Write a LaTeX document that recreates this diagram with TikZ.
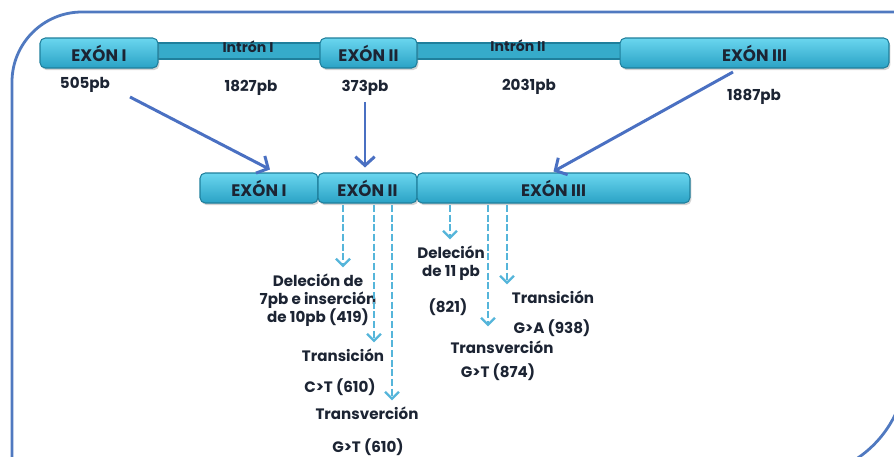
\documentclass[tikz,border=0pt]{standalone}
\usepackage{fontspec}
\setmainfont{Poppins}
\usetikzlibrary{arrows.meta}
\usetikzlibrary{positioning}
\usetikzlibrary{shadows}
\definecolor{framecol}{HTML}{5079C0}
\definecolor{exonlight}{HTML}{6AD6EF}
\definecolor{exondark}{HTML}{2AA2C5}
\definecolor{exonedge}{HTML}{1F7F9C}
\definecolor{introncol}{HTML}{36ABCA}
\definecolor{txtcol}{HTML}{1C2433}
\definecolor{arrowcol}{HTML}{4A70C2}
\definecolor{dashcol}{HTML}{55B5DA}
\tikzset{exon/.style = {draw=exonedge, line width=0.6pt, rounded corners=3pt,
                        top color=exonlight, bottom color=exondark,
                        minimum height=0.6cm, inner sep=0, text=txtcol,
                        font=\bfseries\fontsize{9.5}{11}\selectfont,
                        drop shadow={opacity=0.35, shadow xshift=0.8pt, shadow yshift=-1.2pt}}}
\tikzset{intron/.style = {draw=exonedge, line width=0.6pt, fill=introncol,
                          minimum height=0.32cm, inner sep=0}}
\tikzset{lbl/.style = {text=txtcol, font=\bfseries\fontsize{8.6}{10.3}\selectfont, align=center}}
\tikzset{smalllbl/.style = {text=txtcol, font=\bfseries\fontsize{8}{9}\selectfont}}
\tikzset{mainarrow/.style = {draw=arrowcol, line width=1.7pt,
                             -{Straight Barb[length=5pt, width=11pt]}}}
\tikzset{mutarrow/.style = {draw=dashcol, line width=1.3pt, dash pattern=on 4pt off 1.5pt,
                            -{Straight Barb[length=4pt, width=8pt]}}}

\begin{document}
\begin{tikzpicture}[x=0.02cm, y=-0.02cm]
  \useasboundingbox (0,0) rectangle (894,457);
  \begin{scope}
    \clip (0,0) rectangle (894,457);
    \draw [framecol, line width=1.6pt]
      (12,480) -- (12,82) arc[start angle=180, end angle=270, radius=70]
      -- (906,12) -- (906,367) arc[start angle=0, end angle=90, radius=110]
      -- (0,477);
  \end{scope}

  % gen completo
  \node [intron, minimum width=3.4cm] (intIa) at (239,51) {};
  \node [intron, minimum width=4.2cm] (intIIa) at (518.5,51) {};
  \node [exon, minimum width=2.36cm] (exIa) at (99,53) {EXÓN I};
  \node [exon, minimum width=1.94cm] (exIIa) at (368.5,53) {EXÓN II};
  \node [exon, minimum width=5.38cm] (exIIIa) at (754.5,53) {EXÓN III};
  \node [smalllbl] (tIa) at (248,47) {Intrón I};
  \node [smalllbl] (tIIa) at (518,46) {Intrón II};

  \node [lbl] (pb505) at (85,85) {505pb};
  \node [lbl] (pb1827) at (251,88) {1827pb};
  \node [lbl] (pb373) at (365,88) {373pb};
  \node [lbl] (pb2031) at (529,87) {2031pb};
  \node [lbl] (pb1887) at (754,97) {1887pb};

  % ARNm
  \node [exon, minimum width=2.36cm] (exIb) at (259,188) {EXÓN I};
  \node [exon, minimum width=1.98cm] (exIIb) at (367.5,188) {EXÓN II};
  \node [exon, minimum width=5.46cm] (exIIIb) at (553.5,188) {EXÓN III};

  \coordinate (s505) at (130,97);
  \coordinate (s1887) at (733,72);
  \draw [mainarrow] (s505) -- ([xshift=0.22cm, yshift=0.06cm]exIb.north);
  \draw [mainarrow] (pb373.south) -- ([yshift=0.1cm]pb373.south |- exIIb.north);
  \draw [mainarrow] (s1887) -- ([yshift=0.02cm]exIIIb.north);

  % mutaciones
  \node [lbl] (del419) at (318,300) {Deleción de\\7pb e inserción\\de 10pb (419)};
  \node [lbl] (tsC) at (343,355) {Transición};
  \node [lbl] (ctC) at (340,387) {C>T (610)};
  \node [lbl] (tvC) at (367,413) {Transverción};
  \node [lbl] (gtC) at (368,447) {G>T (610)};

  \node [lbl] (del821) at (451,263) {Deleción\\de 11 pb};
  \node [lbl] (n821) at (448,307) {(821)};
  \node [lbl] (tsG) at (553,297) {Transición};
  \node [lbl] (gaG) at (552,328) {G>A (938)};
  \node [lbl] (tvG) at (502,347) {Transverción};
  \node [lbl] (gtG) at (498,372) {G>T (874)};

  \coordinate (m419) at (343,205);
  \coordinate (m610a) at (374,205);
  \coordinate (m610b) at (392,205);
  \coordinate (m821) at (450,205);
  \coordinate (m874) at (488,205);
  \coordinate (m938) at (507,205);
  \draw [mutarrow] (m419) -- (m419 |- del419.north);
  \draw [mutarrow] (m610a) -- (m610a |- tsC.north);
  \draw [mutarrow] (m610b) -- (m610b |- tvC.north);
  \draw [mutarrow] (m821) -- (m821 |- del821.north);
  \draw [mutarrow] (m874) -- ([yshift=0.16cm]m874 |- tvG.north);
  \draw [mutarrow] (m938) -- (m938 |- tsG.north);
\end{tikzpicture}
\end{document}
